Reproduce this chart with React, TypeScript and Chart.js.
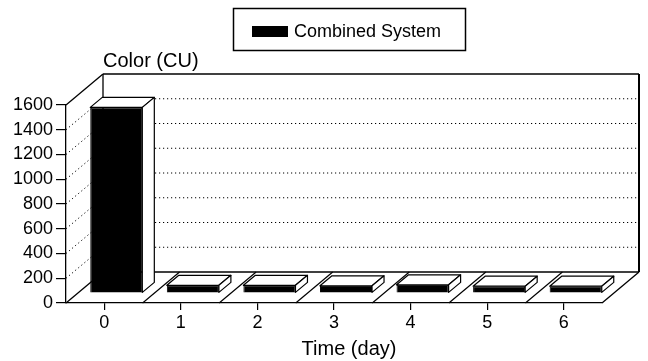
import React, { useEffect, useRef } from 'react';
import { Chart, registerables } from 'chart.js';

Chart.register(...registerables);

const categories = ['0', '1', '2', '3', '4', '5', '6'];
const colorValues = [1500, 62, 62, 58, 66, 55, 55];
const seriesLabel = 'Combined System';
const yTickValues = [0, 200, 400, 600, 800, 1000, 1200, 1400, 1600];
const yAxisTitle = 'Color (CU)';
const xAxisTitle = 'Time (day)';

const FONT = '"Liberation Sans", Arial, Helvetica, sans-serif';
const DEPTH_X = 37;
const DEPTH_Y = 31;
const BAR_SHIFT_X = 12;
const BAR_SHIFT_Y = 10;
const BAR_DEPTH_X = 12;
const BAR_DEPTH_Y = 10;

function line(ctx: CanvasRenderingContext2D, x1: number, y1: number, x2: number, y2: number) {
  ctx.beginPath();
  ctx.moveTo(x1, y1);
  ctx.lineTo(x2, y2);
  ctx.stroke();
}

const box3d = {
  id: 'box3d',
  beforeDatasetsDraw(chart: any) {
    const ctx: CanvasRenderingContext2D = chart.ctx;
    const { left: L, right: R, top: T, bottom: B } = chart.chartArea;
    const ys = chart.scales.y;
    const xs = chart.scales.x;
    const dx = DEPTH_X, dy = DEPTH_Y;
    ctx.save();
    ctx.strokeStyle = '#000';
    ctx.lineWidth = 1;
    ctx.setLineDash([1.2, 2.8]);
    yTickValues.forEach((v) => {
      if (v === yTickValues[0] || v === yTickValues[yTickValues.length - 1]) return;
      const py = ys.getPixelForValue(v);
      line(ctx, L, py, L + dx, py - dy);
      line(ctx, L + dx, py - dy, R + dx, py - dy);
    });
    ctx.setLineDash([]);
    ctx.lineWidth = 1.3;
    line(ctx, L, T, L + dx, T - dy);
    line(ctx, L + dx, T - dy, R + dx, T - dy);
    line(ctx, L + dx, T - dy, L + dx, B - dy);
    line(ctx, L, B, L + dx, B - dy);
    line(ctx, L + dx, B - dy, R + dx, B - dy);
    line(ctx, R, B, R + dx, B - dy);
    ctx.lineWidth = 2;
    line(ctx, R + dx, T - dy, R + dx, B - dy);
    ctx.lineWidth = 1.2;
    for (let i = 1; i < categories.length; i++) {
      const xb = (xs.getPixelForValue(i - 1) + xs.getPixelForValue(i)) / 2;
      line(ctx, xb, B, xb + dx, B - dy);
    }
    ctx.restore();
    ctx.save();
    ctx.translate(BAR_SHIFT_X, -BAR_SHIFT_Y);
  },
  afterDatasetsDraw(chart: any) {
    const ctx: CanvasRenderingContext2D = chart.ctx;
    ctx.restore();
    const meta = chart.getDatasetMeta(0);
    ctx.save();
    ctx.strokeStyle = '#000';
    ctx.fillStyle = '#fff';
    ctx.lineWidth = 1.2;
    ctx.lineJoin = 'round';
    meta.data.forEach((el: any) => {
      const p = el.getProps(['x', 'y', 'base', 'width'], true);
      const left = p.x - p.width / 2 + BAR_SHIFT_X;
      const right = p.x + p.width / 2 + BAR_SHIFT_X;
      const top = p.y - BAR_SHIFT_Y;
      const bottom = p.base - BAR_SHIFT_Y;
      ctx.beginPath();
      ctx.moveTo(left, top);
      ctx.lineTo(right, top);
      ctx.lineTo(right + BAR_DEPTH_X, top - BAR_DEPTH_Y);
      ctx.lineTo(left + BAR_DEPTH_X, top - BAR_DEPTH_Y);
      ctx.closePath();
      ctx.fill();
      ctx.stroke();
      ctx.beginPath();
      ctx.moveTo(right, top);
      ctx.lineTo(right + BAR_DEPTH_X, top - BAR_DEPTH_Y);
      ctx.lineTo(right + BAR_DEPTH_X, bottom - BAR_DEPTH_Y);
      ctx.lineTo(right, bottom);
      ctx.closePath();
      ctx.fill();
      ctx.stroke();
    });
    ctx.restore();
  },
  afterDraw(chart: any) {
    const ctx: CanvasRenderingContext2D = chart.ctx;
    ctx.save();
    ctx.fillStyle = '#000';
    ctx.textBaseline = 'alphabetic';
    ctx.font = `20px ${FONT}`;
    ctx.textAlign = 'left';
    ctx.fillText(yAxisTitle, 103, 67);
    ctx.textAlign = 'center';
    ctx.fillText(xAxisTitle, 349, 355);
    ctx.strokeStyle = '#000';
    ctx.lineWidth = 1.5;
    ctx.strokeRect(233.5, 8.5, 232, 42);
    ctx.fillRect(252, 26, 36, 11);
    ctx.font = `18px ${FONT}`;
    ctx.textAlign = 'left';
    ctx.fillText(seriesLabel, 294, 37);
    ctx.restore();
  },
};

export default function App() {
  const ref = useRef<HTMLCanvasElement | null>(null);
  useEffect(() => {
    document.body.style.margin = '0';
    const canvas = ref.current;
    if (!canvas) return;
    const chart = new Chart(canvas, {
      type: 'bar',
      data: {
        labels: categories,
        datasets: [
          {
            label: seriesLabel,
            data: colorValues,
            backgroundColor: '#000',
            borderColor: '#000',
            borderWidth: 1,
            barPercentage: 0.68,
            categoryPercentage: 1,
            clip: false as any,
          },
        ],
      },
      options: {
        animation: false,
        responsive: false,
        devicePixelRatio: 1,
        layout: { padding: { top: 105, right: 46, left: 0, bottom: 0 } },
        plugins: { legend: { display: false }, tooltip: { enabled: false }, title: { display: false } },
        scales: {
          x: {
            type: 'category',
            offset: true,
            grid: { drawOnChartArea: false, drawTicks: true, tickLength: 7, offset: false, color: '#000', lineWidth: 1.2 },
            border: { display: true, color: '#000', width: 1.3 },
            ticks: { color: '#000', font: { family: FONT, size: 18 }, padding: 2, maxRotation: 0 },
            afterFit: (s: any) => { s.height = 58; },
          },
          y: {
            min: 0,
            max: 1600,
            afterBuildTicks: (s: any) => { s.ticks = yTickValues.map((v) => ({ value: v })); },
            grid: { drawOnChartArea: false, drawTicks: true, tickLength: 10, color: '#000', lineWidth: 1.2 },
            border: { display: true, color: '#000', width: 1.3 },
            ticks: { color: '#000', font: { family: FONT, size: 18 }, padding: 3, callback: (v: any) => String(v) },
            afterFit: (s: any) => { s.width = 66; },
          },
        },
      },
      plugins: [box3d],
    });
    return () => chart.destroy();
  }, []);
  return <canvas ref={ref} width={648} height={361} style={{ display: 'block' }} />;
}
